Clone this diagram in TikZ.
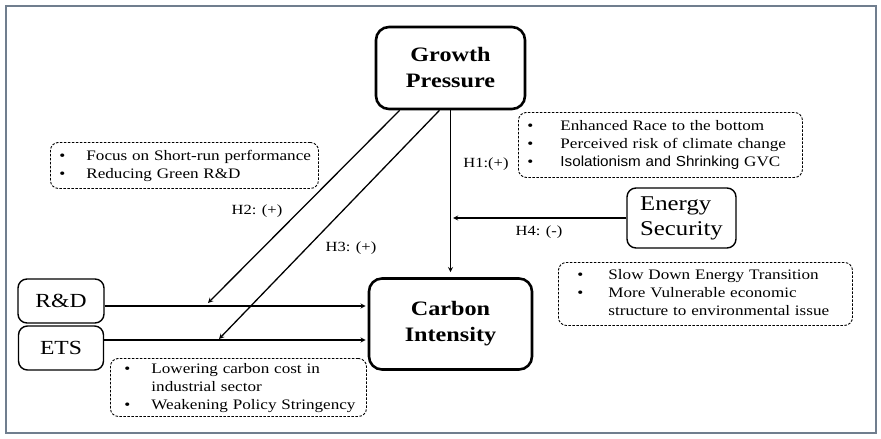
\documentclass[tikz,border=0pt]{standalone}
\usepackage{fontspec}
\setmainfont{Liberation Serif}[FakeStretch=1.18]
\setsansfont{Liberation Sans}[FakeStretch=1.05]
\definecolor{framegray}{RGB}{112,126,142}

\begin{document}
\begin{tikzpicture}[x=1pt,y=-1pt,>=stealth,
  mainbox/.style={draw, line width=2.6pt, rounded corners=13pt, align=center, inner sep=0pt,
    font=\fontsize{20.5}{26}\selectfont\bfseries},
  varbox/.style={draw, line width=1.4pt, rounded corners=9pt, inner sep=0pt,
    font=\fontsize{20}{25}\selectfont},
  notebox/.style={draw, dash pattern=on 2.5pt off 1.5pt, line width=0.9pt, rounded corners=8pt,
    inner sep=0pt, align=left, anchor=north west, font=\fontsize{14.5}{18}\selectfont},
  hlabel/.style={font=\fontsize{14}{17}\selectfont},
  link/.style={->, line width=1.3pt}]
\useasboundingbox (0,0) rectangle (881,439);
\draw[framegray, line width=1.5pt] (6,6) rectangle (876,433);

\node[mainbox, minimum width=149pt, minimum height=82pt] (gp) at (450.5,68) {Growth\\Pressure};
\node[mainbox, minimum width=163pt, minimum height=91pt] (ci) at (450.5,324) {Carbon\\Intensity};
\node[varbox, minimum width=86pt, minimum height=44pt] (rd) at (61,301) {R\&D};
\node[varbox, minimum width=85pt, minimum height=44pt] (ets) at (61,348) {ETS};
\node[varbox, minimum width=109pt, minimum height=60pt, align=left,
  font=\fontsize{21}{25}\selectfont] (es) at (681.5,218) {Energy\\Security};

\node[notebox, text width=268pt, minimum height=46pt] (short) at (50,142) {%
\begin{tabular}{@{\hspace{9pt}}p{27pt}@{}l@{}}
\textbullet & Focus on Short-run performance\\
\textbullet & Reducing Green R\&D
\end{tabular}};
\node[notebox, text width=284pt, minimum height=65pt] (race) at (518,112) {%
\begin{tabular}{@{\hspace{9pt}}p{33pt}@{}l@{}}
\textbullet & Enhanced Race to the bottom\\
\textbullet & Perceived risk of climate change\\
\textbullet & {\sffamily Isolationism and Shrinking} GVC
\end{tabular}};
\node[notebox, text width=294pt, minimum height=63pt] (transit) at (558,262) {%
\begin{tabular}{@{\hspace{19pt}}p{31pt}@{}l@{}}
\textbullet & Slow Down Energy Transition\\
\textbullet & More Vulnerable economic\\
 & structure to environmental issue
\end{tabular}};
\node[notebox, text width=256pt, minimum height=58pt] (cost) at (110,358) {%
\begin{tabular}{@{\hspace{14pt}}p{27pt}@{}l@{}}
\textbullet & Lowering carbon cost in\\
 & industrial sector\\
\textbullet & Weakening Policy Stringency
\end{tabular}};

\node[hlabel] (h1) at (486,164) {H1:(+)};
\node[hlabel] (h2) at (257,211) {H2: (+)};
\node[hlabel] (h3) at (351,248) {H3: (+)};
\node[hlabel] (h4) at (539,232) {H4: (-)};

\coordinate (h2end) at (208,303);
\coordinate (h3end) at (219,339);
\coordinate (h4end) at (453,218);
\coordinate (rdout) at ([yshift=-5pt]rd.east);
\coordinate (etsout) at ([yshift=8pt]ets.east);

\draw[link, shorten >=5pt] (gp) -- (ci);
\draw[link] (es) -- (h4end);
\draw[link] ([xshift=25pt]gp.south west) -- (h2end);
\draw[link] ([xshift=-11pt]gp.south) -- (h3end);
\draw[link, shorten >=2pt] (rdout) -- (rdout -| ci.west);
\draw[link, shorten >=2pt] (etsout) -- (etsout -| ci.west);
\end{tikzpicture}
\end{document}
